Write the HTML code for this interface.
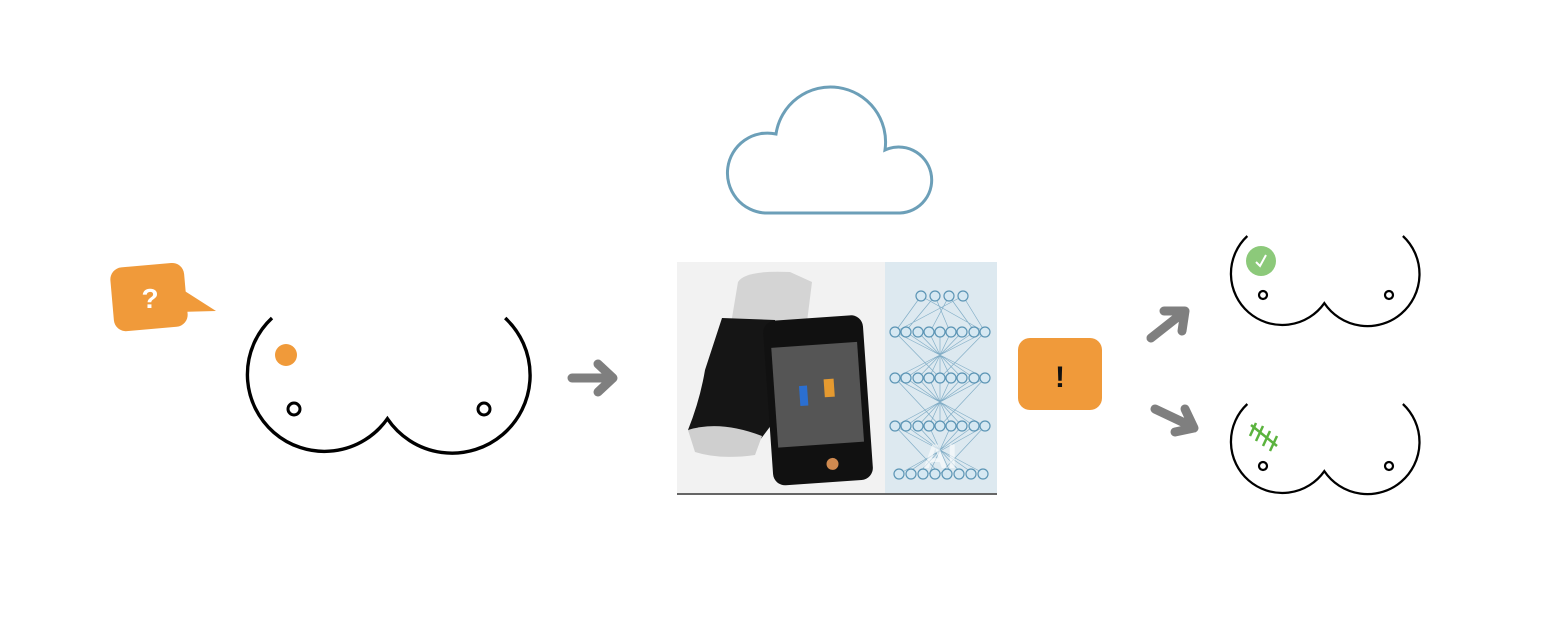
<!DOCTYPE html>
<html><head><style>html,body{margin:0;padding:0;background:#fff}svg{display:block}</style></head>
<body>
<svg width="1542" height="636" viewBox="0 0 1542 636" xmlns="http://www.w3.org/2000/svg" font-family="Liberation Sans, sans-serif">
<defs>
<g id="br"><path d="M26 0 A77 77 0 1 0 141.4 100.7 A78 78 0 1 0 259.2 0" fill="none" stroke="#000" stroke-width="3.4"/></g>
</defs>
<g transform="rotate(-5 150 297)">
<rect x="112" y="265" width="74" height="64" rx="12" fill="#f09a3a"/>
</g>
<polygon points="180,288 216,311 178,312" fill="#f09a3a"/>
<text x="150" y="308" font-size="28" font-weight="bold" fill="#fff" text-anchor="middle">?</text>
<g transform="translate(246,318)"><use href="#br"/></g>
<circle cx="294" cy="409" r="6" fill="none" stroke="#000" stroke-width="3"/>
<circle cx="484" cy="409" r="6" fill="none" stroke="#000" stroke-width="3"/>
<circle cx="286" cy="355" r="11" fill="#f09a3a"/>
<g stroke="#7f7f7f" stroke-width="9" stroke-linecap="round" fill="none" stroke-linejoin="round">
<path d="M572 378 H612 M598 364 L613 378 L598 392"/>
<path d="M1151 338 L1184 312 M1164 311 L1185 311 L1182 331"/>
<path d="M1155 409 L1193 427 M1185 409 L1194 428 L1175 432"/>
</g>
<path d="M765 213 A40 40 0 1 1 776 134 A55 55 0 0 1 885 150 A33 33 0 1 1 900 213 Z" fill="none" stroke="#6c9fb8" stroke-width="3"/>
<rect x="677" y="262" width="208" height="231" fill="#f2f2f2"/>
<rect x="885" y="262" width="112" height="231" fill="#dde9f0"/>
<line x1="677" y1="494" x2="997" y2="494" stroke="#333" stroke-width="1.5"/>
<path d="M738 282 Q745 270 790 272 L812 282 L806 330 L770 345 L730 330 Z" fill="#d4d4d4"/>
<path d="M722 318 L775 320 L775 420 L760 440 Q740 452 700 445 L688 430 Q700 400 705 370 Z" fill="#151515"/>
<path d="M688 430 Q720 420 762 436 L755 455 Q720 460 695 452 Z" fill="#cfcfcf"/>
<g transform="rotate(-4 815 400)">
<rect x="768" y="318" width="100" height="165" rx="12" fill="#111"/>
<rect x="775" y="345" width="86" height="100" fill="#555"/>
<rect x="800" y="385" width="8" height="20" fill="#2b6fd1"/>
<rect x="825" y="380" width="10" height="18" fill="#e59a30"/>
<circle cx="828" cy="465" r="6" fill="#d08a50"/>
</g>
<g stroke="#5c95b5" stroke-width="0.7" opacity="0.7">
<path d="M921 296 L895 332 M921 296 L985 332 M935 296 L905 332 M949 296 L975 332 M963 296 L895 332 M963 296 L985 332 M935 296 L950 332 M949 296 L930 332"/>
<path d="M895 332 L985 378 M985 332 L895 378 M906 332 L974 378 M974 332 L906 378 M918 332 L962 378 M962 332 L918 378 M929 332 L951 378 M951 332 L929 378 M940 332 L940 378 M895 332 L940 378 M985 332 L940 378"/>
<path d="M895 378 L985 426 M985 378 L895 426 M906 378 L974 426 M974 378 L906 426 M918 378 L962 426 M962 378 L918 426 M929 378 L951 426 M951 378 L929 426 M940 378 L940 426 M895 378 L940 426 M985 378 L940 426"/>
<path d="M895 426 L985 474 M985 426 L899 474 M906 426 L974 474 M974 426 L906 474 M918 426 L962 474 M962 426 L918 474 M929 426 L951 474 M951 426 L929 474 M895 426 L940 474 M985 426 L940 474"/>
</g>
<g fill="#d6e8f2" stroke="#5c95b5" stroke-width="1.2">
<circle cx="921" cy="296" r="5"/><circle cx="935" cy="296" r="5"/><circle cx="949" cy="296" r="5"/><circle cx="963" cy="296" r="5"/>
<circle cx="895" cy="332" r="5"/><circle cx="906" cy="332" r="5"/><circle cx="918" cy="332" r="5"/><circle cx="929" cy="332" r="5"/><circle cx="940" cy="332" r="5"/><circle cx="951" cy="332" r="5"/><circle cx="962" cy="332" r="5"/><circle cx="974" cy="332" r="5"/><circle cx="985" cy="332" r="5"/>
<circle cx="895" cy="378" r="5"/><circle cx="906" cy="378" r="5"/><circle cx="918" cy="378" r="5"/><circle cx="929" cy="378" r="5"/><circle cx="940" cy="378" r="5"/><circle cx="951" cy="378" r="5"/><circle cx="962" cy="378" r="5"/><circle cx="974" cy="378" r="5"/><circle cx="985" cy="378" r="5"/>
<circle cx="895" cy="426" r="5"/><circle cx="906" cy="426" r="5"/><circle cx="918" cy="426" r="5"/><circle cx="929" cy="426" r="5"/><circle cx="940" cy="426" r="5"/><circle cx="951" cy="426" r="5"/><circle cx="962" cy="426" r="5"/><circle cx="974" cy="426" r="5"/><circle cx="985" cy="426" r="5"/>
<circle cx="899" cy="474" r="5"/><circle cx="911" cy="474" r="5"/><circle cx="923" cy="474" r="5"/><circle cx="935" cy="474" r="5"/><circle cx="947" cy="474" r="5"/><circle cx="959" cy="474" r="5"/><circle cx="971" cy="474" r="5"/><circle cx="983" cy="474" r="5"/>
</g>
<text x="940" y="468" font-size="34" font-weight="bold" fill="#fff" opacity="0.6" text-anchor="middle">AI</text>
<rect x="1018" y="338" width="84" height="72" rx="12" fill="#f09a3a"/>
<text x="1060" y="387" font-size="30" font-weight="bold" fill="#111" text-anchor="middle">!</text>
<g transform="translate(1230,236) scale(0.667)"><use href="#br"/></g>
<circle cx="1263" cy="295" r="4" fill="none" stroke="#000" stroke-width="2.2"/>
<circle cx="1389" cy="295" r="4" fill="none" stroke="#000" stroke-width="2.2"/>
<circle cx="1261" cy="261" r="15" fill="#8cc97a"/>
<path d="M1256 262 L1260 266 L1266 255" fill="none" stroke="#fff" stroke-width="2"/>
<g transform="translate(1230,404) scale(0.667)"><use href="#br"/></g>
<circle cx="1263" cy="466" r="4" fill="none" stroke="#000" stroke-width="2.2"/>
<circle cx="1389" cy="466" r="4" fill="none" stroke="#000" stroke-width="2.2"/>
<g stroke="#5bb33e" stroke-width="2.5">
<line x1="1251" y1="425" x2="1277" y2="446"/>
<line x1="1256" y1="423" x2="1250" y2="436"/><line x1="1263" y1="426" x2="1256" y2="441"/><line x1="1270" y1="431" x2="1263" y2="446"/><line x1="1277" y1="436" x2="1270" y2="451"/>
</g>
</svg>
</body></html>
